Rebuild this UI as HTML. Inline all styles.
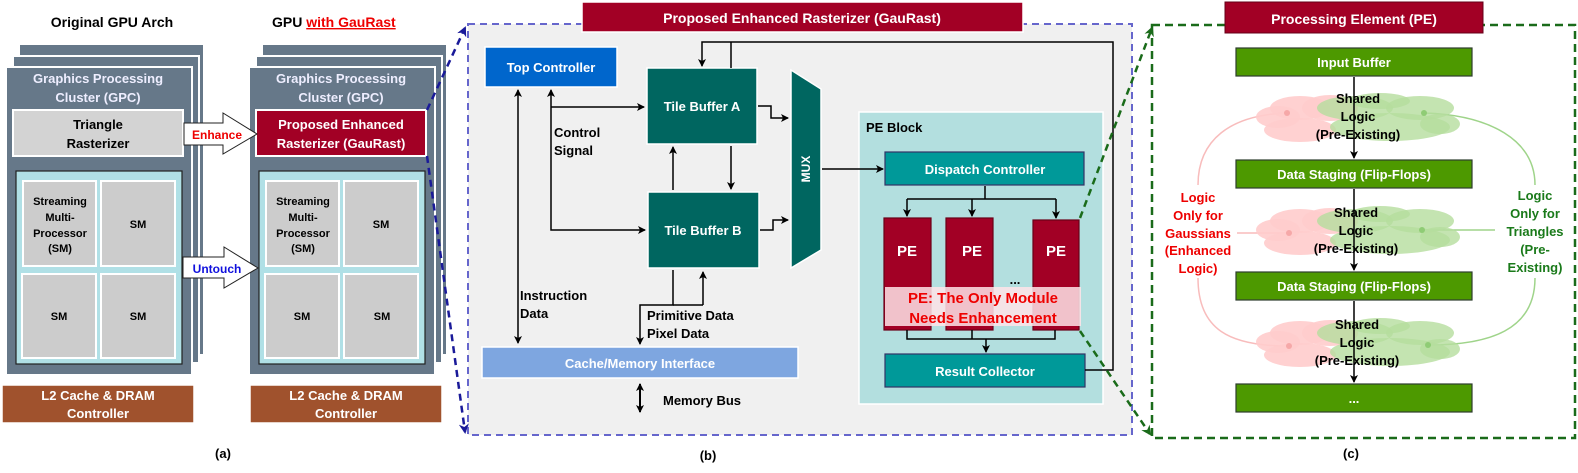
<!DOCTYPE html>
<html><head><meta charset="utf-8"><style>
html,body{margin:0;padding:0;background:#fff;}
svg{display:block;font-family:"Liberation Sans",Arial,sans-serif;font-weight:bold;}
</style></head><body>
<svg width="1578" height="473" viewBox="0 0 1578 473" xmlns="http://www.w3.org/2000/svg">
<defs>
<marker id="ah" markerWidth="8" markerHeight="8" refX="7" refY="4" orient="auto" markerUnits="userSpaceOnUse"><path d="M0,0 L8,4 L0,8 L2,4 z" fill="#000"/></marker>
<marker id="ahs" markerWidth="8" markerHeight="8" refX="1" refY="4" orient="auto" markerUnits="userSpaceOnUse"><path d="M8,0 L0,4 L8,8 L6,4 z" fill="#000"/></marker>
<marker id="bh" markerWidth="10" markerHeight="10" refX="8" refY="5" orient="auto" markerUnits="userSpaceOnUse"><path d="M0,0 L10,5 L0,10 L3,5 z" fill="#1a1a99"/></marker>
<marker id="gh" markerWidth="10" markerHeight="10" refX="8" refY="5" orient="auto" markerUnits="userSpaceOnUse"><path d="M0,0 L10,5 L0,10 L3,5 z" fill="#1a6b1a"/></marker>
</defs>

<!-- ===== Panel (a) ===== -->
<text x="112" y="27" font-size="14" text-anchor="middle">Original GPU Arch</text>
<text x="272" y="27" font-size="14">GPU <tspan fill="#e00" text-decoration="underline">with GauRast</tspan></text>

<g stroke="#fff" stroke-width="2">
<rect x="19" y="44" width="185" height="311" fill="#667889"/>
<rect x="13" y="56" width="186" height="307" fill="#667889"/>
<rect x="6" y="67" width="186" height="308" fill="#667889"/>
<rect x="262" y="44" width="185" height="311" fill="#667889"/>
<rect x="256" y="56" width="186" height="307" fill="#667889"/>
<rect x="249" y="67" width="186" height="308" fill="#667889"/>
</g>
<g fill="#eef" font-size="13" text-anchor="middle">
<text x="98" y="83">Graphics Processing</text><text x="98" y="102">Cluster (GPC)</text>
<text x="341" y="83">Graphics Processing</text><text x="341" y="102">Cluster (GPC)</text>
</g>
<rect x="13" y="110" width="170" height="46" fill="#d3d3d3" stroke="#fff" stroke-width="2"/>
<text x="98" y="129" font-size="13" text-anchor="middle">Triangle</text>
<text x="98" y="148" font-size="13" text-anchor="middle">Rasterizer</text>
<rect x="256" y="110" width="170" height="46" fill="#a20025" stroke="#fff" stroke-width="2"/>
<text x="341" y="129" font-size="13" fill="#fff" text-anchor="middle">Proposed Enhanced</text>
<text x="341" y="148" font-size="13" fill="#fff" text-anchor="middle">Rasterizer (GauRast)</text>

<rect x="16" y="171" width="166" height="193" fill="#b0e0e6" stroke="#222" stroke-width="1.2"/>
<rect x="259" y="171" width="166" height="193" fill="#b0e0e6" stroke="#222" stroke-width="1.2"/>
<g fill="#cccccc" stroke="#fff" stroke-width="2">
<rect x="23" y="181" width="73" height="85"/><rect x="101" y="181" width="74" height="85"/>
<rect x="22" y="274" width="74" height="84"/><rect x="101" y="274" width="74" height="84"/>
<rect x="266" y="181" width="73" height="85"/><rect x="344" y="181" width="74" height="85"/>
<rect x="265" y="274" width="74" height="84"/><rect x="344" y="274" width="74" height="84"/>
</g>
<g font-size="11" text-anchor="middle">
<text x="60" y="205">Streaming</text><text x="60" y="221">Multi-</text><text x="60" y="237">Processor</text><text x="60" y="252">(SM)</text>
<text x="138" y="228">SM</text><text x="59" y="320">SM</text><text x="138" y="320">SM</text>
<text x="303" y="205">Streaming</text><text x="303" y="221">Multi-</text><text x="303" y="237">Processor</text><text x="303" y="252">(SM)</text>
<text x="381" y="228">SM</text><text x="302" y="320">SM</text><text x="382" y="320">SM</text>
</g>
<rect x="2" y="385" width="192" height="38" fill="#a0522d" stroke="#fff" stroke-width="1.5"/>
<rect x="250" y="385" width="192" height="38" fill="#a0522d" stroke="#fff" stroke-width="1.5"/>
<g fill="#fff" font-size="13" text-anchor="middle">
<text x="98" y="400">L2 Cache &amp; DRAM</text><text x="98" y="418">Controller</text>
<text x="346" y="400">L2 Cache &amp; DRAM</text><text x="346" y="418">Controller</text>
</g>
<path d="M184,123 L223,123 L223,113 L257,134 L223,154 L223,145 L184,145 Z" fill="#fff" stroke="#222" stroke-width="1"/>
<text x="217" y="139" font-size="12" fill="#e00" text-anchor="middle">Enhance</text>
<path d="M183,257 L224,257 L224,247 L258,268 L224,288 L224,278 L183,278 Z" fill="#fff" stroke="#222" stroke-width="1"/>
<text x="217" y="273" font-size="12" fill="#1010dd" text-anchor="middle">Untouch</text>
<text x="223" y="458" font-size="13" text-anchor="middle">(a)</text>

<!-- ===== Panel (b) ===== -->
<rect x="468" y="24" width="664" height="411" fill="#f0f0f0" stroke="#6666cc" stroke-width="2" stroke-dasharray="7,5"/>
<rect x="582" y="2" width="441" height="30" fill="#a20025" stroke="#fff" stroke-width="1.5"/>
<text x="802" y="23" font-size="14" fill="#fff" text-anchor="middle">Proposed Enhanced Rasterizer (GauRast)</text>

<!-- connectors a->b -->
<line x1="427" y1="110" x2="465" y2="28" stroke="#1a1a99" stroke-width="2.5" stroke-dasharray="7,5" marker-end="url(#bh)"/>
<line x1="427" y1="156" x2="465" y2="432" stroke="#1a1a99" stroke-width="2.5" stroke-dasharray="7,5" marker-end="url(#bh)"/>

<rect x="485" y="47" width="132" height="40" fill="#0066cc" stroke="#fff" stroke-width="1.5"/>
<text x="551" y="72" font-size="13" fill="#fff" text-anchor="middle">Top Controller</text>
<rect x="647" y="68" width="110" height="76" fill="#006660" stroke="#fff" stroke-width="1.5"/>
<text x="702" y="111" font-size="13" fill="#fff" text-anchor="middle">Tile Buffer A</text>
<rect x="648" y="192" width="111" height="76" fill="#006660" stroke="#fff" stroke-width="1.5"/>
<text x="703" y="235" font-size="13" fill="#fff" text-anchor="middle">Tile Buffer B</text>
<path d="M791,70 L821,89 L821,250 L791,268 Z" fill="#006660" stroke="#fff" stroke-width="1.5"/>
<text x="0" y="0" font-size="12" fill="#fff" text-anchor="middle" transform="translate(810,169) rotate(-90)">MUX</text>

<rect x="482" y="347" width="316" height="31" fill="#7ea6e0" stroke="#fff" stroke-width="1.5"/>
<text x="640" y="368" font-size="13" fill="#fff" text-anchor="middle">Cache/Memory Interface</text>
<line x1="640" y1="384" x2="640" y2="412" stroke="#000" stroke-width="2" marker-start="url(#ahs)" marker-end="url(#ah)"/>
<text x="663" y="405" font-size="13">Memory Bus</text>

<rect x="859" y="112" width="244" height="292" fill="#b3dfdf" stroke="#fff" stroke-width="1.5"/>
<text x="866" y="132" font-size="13">PE Block</text>
<rect x="885" y="152" width="199" height="33" fill="#009999" stroke="#333366" stroke-width="1.2"/>
<text x="985" y="174" font-size="13" fill="#fff" text-anchor="middle">Dispatch Controller</text>
<g fill="#a20025" stroke="#6a0018" stroke-width="1.2">
<rect x="884" y="218" width="47" height="112"/><rect x="946" y="218" width="47" height="112"/><rect x="1033" y="220" width="46" height="110"/>
</g>
<g fill="#fff" font-size="15" text-anchor="middle"><text x="907" y="256">PE</text><text x="972" y="256">PE</text><text x="1056" y="256">PE</text></g>
<text x="1015" y="284" font-size="13" text-anchor="middle">...</text>
<rect x="885" y="287" width="196" height="39" fill="#ffe4e9" fill-opacity="0.85"/>
<text x="983" y="303" font-size="15" fill="#e00" text-anchor="middle">PE: The Only Module</text>
<text x="983" y="323" font-size="15" fill="#e00" text-anchor="middle">Needs Enhancement</text>
<rect x="885" y="354" width="200" height="33" fill="#009999" stroke="#333366" stroke-width="1.2"/>
<text x="985" y="376" font-size="13" fill="#fff" text-anchor="middle">Result Collector</text>

<g stroke="#000" stroke-width="1.5" fill="none">
<line x1="518" y1="90" x2="518" y2="343" marker-start="url(#ahs)" marker-end="url(#ah)"/>
<polyline points="551,90 551,230 645,230" marker-start="url(#ahs)" marker-end="url(#ah)"/>
<line x1="551" y1="107" x2="644" y2="107" marker-end="url(#ah)"/>
<line x1="673" y1="190" x2="673" y2="147" marker-end="url(#ah)"/>
<line x1="731" y1="146" x2="731" y2="189" marker-end="url(#ah)"/>
<polyline points="758,106 771,106 771,118 788,118" marker-end="url(#ah)"/>
<polyline points="760,230 773,230 773,220 788,220" marker-end="url(#ah)"/>
<line x1="822" y1="169" x2="883" y2="169" marker-end="url(#ah)"/>
<polyline points="673,270 673,305 640,305 640,344" marker-end="url(#ah)"/>
<polyline points="703,305 703,272" marker-end="url(#ah)"/>
<line x1="673" y1="305" x2="703" y2="305"/>
<polyline points="1085,370 1113,370 1113,42 702,42 702,66" marker-end="url(#ah)"/>
<line x1="731" y1="42" x2="731" y2="68"/>
<polyline points="985,186 985,199"/>
<polyline points="907,199 1056,199"/>
<line x1="907" y1="199" x2="907" y2="216" marker-end="url(#ah)"/>
<line x1="972" y1="199" x2="972" y2="216" marker-end="url(#ah)"/>
<line x1="1056" y1="199" x2="1056" y2="218" marker-end="url(#ah)"/>
<polyline points="907,330 907,339 1055,339 1055,330"/>
<line x1="972" y1="330" x2="972" y2="339"/>
<line x1="986" y1="339" x2="986" y2="352" marker-end="url(#ah)"/>
</g>
<g font-size="13">
<text x="554" y="137">Control</text><text x="554" y="155">Signal</text>
<text x="520" y="300">Instruction</text><text x="520" y="318">Data</text>
<text x="647" y="320">Primitive Data</text><text x="647" y="338">Pixel Data</text>
</g>
<text x="708" y="460" font-size="13" text-anchor="middle">(b)</text>

<!-- ===== Panel (c) ===== -->
<rect x="1152" y="25" width="423" height="413" fill="#fff" stroke="#1a6b1a" stroke-width="2.5" stroke-dasharray="8,5"/>
<!-- connectors b->c -->
<line x1="1080" y1="218" x2="1152" y2="28" stroke="#1a6b1a" stroke-width="2.5" stroke-dasharray="7,5" marker-end="url(#gh)"/>
<line x1="1080" y1="331" x2="1150" y2="434" stroke="#1a6b1a" stroke-width="2.5" stroke-dasharray="7,5" marker-end="url(#gh)"/>
<rect x="1225" y="2" width="258" height="31" fill="#a20025" stroke="#660018" stroke-width="1"/>
<text x="1354" y="24" font-size="14" fill="#fff" text-anchor="middle">Processing Element (PE)</text>

<g fill="none" stroke-width="1.5">
<path d="M1287,113 C1230,115 1198,140 1198,185" stroke="#f8bcbc"/>
<path d="M1198,278 C1198,330 1230,346 1288,346" stroke="#f8bcbc"/>
<path d="M1237,233 L1288,233" stroke="#f8bcbc"/>
<path d="M1424,113 C1490,115 1535,140 1535,185" stroke="#9fd48a"/>
<path d="M1535,278 C1535,330 1490,345 1428,345" stroke="#9fd48a"/>
<path d="M1422,230 L1495,230" stroke="#9fd48a"/>
</g>
<g id="cl">
<g fill="#ffcccc" fill-opacity="0.9">
<ellipse cx="1300" cy="108" rx="30" ry="12"/><ellipse cx="1278" cy="117" rx="22" ry="11"/><ellipse cx="1300" cy="130" rx="36" ry="12"/><ellipse cx="1330" cy="108" rx="28" ry="13"/>
</g>
<g fill="#b5dd9e" fill-opacity="0.8">
<ellipse cx="1355" cy="108" rx="38" ry="12"/><ellipse cx="1420" cy="108" rx="34" ry="12"/><ellipse cx="1390" cy="127" rx="60" ry="14"/><ellipse cx="1440" cy="124" rx="20" ry="10"/><ellipse cx="1380" cy="101" rx="30" ry="8"/>
</g>
</g>
<use href="#cl" y="113"/>
<use href="#cl" y="225"/>
<g fill="#f6a8a8"><circle cx="1287" cy="113" r="3"/><circle cx="1289" cy="233" r="3"/><circle cx="1289" cy="346" r="3"/></g>
<g fill="#8fcc75"><circle cx="1424" cy="113" r="3"/><circle cx="1422" cy="230" r="3"/><circle cx="1428" cy="345" r="3"/></g>

<g stroke="#000" stroke-width="1.5">
<line x1="1354" y1="77" x2="1354" y2="158" marker-end="url(#ah)"/>
<line x1="1354" y1="189" x2="1354" y2="270" marker-end="url(#ah)"/>
<line x1="1354" y1="301" x2="1354" y2="382" marker-end="url(#ah)"/>
</g>
<g font-size="13" text-anchor="middle">
<text x="1358" y="103">Shared</text><text x="1358" y="121">Logic</text><text x="1358" y="139">(Pre-Existing)</text>
<text x="1356" y="217">Shared</text><text x="1356" y="235">Logic</text><text x="1356" y="253">(Pre-Existing)</text>
<text x="1357" y="329">Shared</text><text x="1357" y="347">Logic</text><text x="1357" y="365">(Pre-Existing)</text>
</g>
<g fill="#4d9900" stroke="#2d3d2d" stroke-width="1.2">
<rect x="1236" y="48" width="236" height="28"/><rect x="1236" y="160" width="236" height="28"/>
<rect x="1236" y="272" width="236" height="28"/><rect x="1236" y="384" width="236" height="28"/>
</g>
<g fill="#fff" font-size="13" text-anchor="middle">
<text x="1354" y="67">Input Buffer</text><text x="1354" y="179">Data Staging (Flip-Flops)</text>
<text x="1354" y="291">Data Staging (Flip-Flops)</text><text x="1354" y="403">...</text>
</g>
<g fill="#e00" font-size="13" text-anchor="middle">
<text x="1198" y="202">Logic</text><text x="1198" y="220">Only for</text><text x="1198" y="238">Gaussians</text><text x="1198" y="255">(Enhanced</text><text x="1198" y="273">Logic)</text>
</g>
<g fill="#1a7a1a" font-size="13" text-anchor="middle">
<text x="1535" y="200">Logic</text><text x="1535" y="218">Only for</text><text x="1535" y="236">Triangles</text><text x="1535" y="254">(Pre-</text><text x="1535" y="272">Existing)</text>
</g>
<text x="1351" y="458" font-size="13" text-anchor="middle">(c)</text>
</svg>
</body></html>
